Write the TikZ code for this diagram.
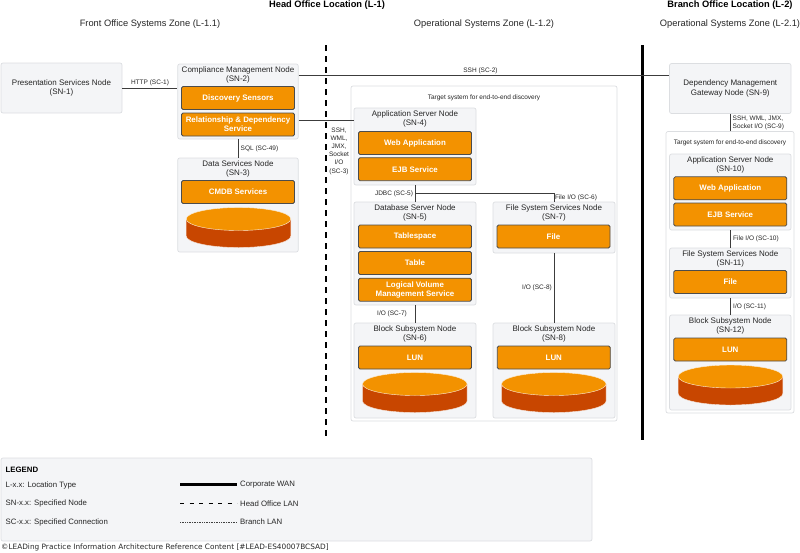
\documentclass[tikz,border=0pt]{standalone}
\usepackage{fontspec}
\setmainfont{Liberation Sans}
\newfontfamily\footfont{DejaVu Sans}
\definecolor{nodegrey}{HTML}{F4F5F7}
\definecolor{edgegrey}{HTML}{DCDEE1}
\definecolor{compfill}{HTML}{F39200}
\definecolor{diskside}{HTML}{C84600}
\definecolor{linkgrey}{HTML}{3C3C3C}
\tikzset{
  zonebox/.style={draw=edgegrey, fill=nodegrey, rounded corners=2pt, line width=.7pt, inner sep=0pt},
  targetbox/.style={draw=edgegrey, fill=white, rounded corners=2pt, line width=.7pt, inner sep=0pt},
  compbox/.style={draw=black!70, fill=compfill, rounded corners=1.5pt, line width=.8pt, minimum width=113pt,
    minimum height=23pt, inner sep=0pt, align=center, text=white, font=\fontsize{7.9}{9.3}\selectfont\bfseries},
  titletext/.style={align=center, inner sep=0pt, text=black!85, font=\fontsize{8}{9.6}\selectfont},
  linktext/.style={align=center, inner sep=0pt, text=black!85, font=\fontsize{6.5}{8.2}\selectfont},
  linktextl/.style={linktext, align=left, anchor=west},
  zonetext/.style={inner sep=0pt, text=black!85, font=\fontsize{9.3}{10}\selectfont},
  headtext/.style={inner sep=0pt, font=\fontsize{9.3}{10}\selectfont\bfseries},
  legendtext/.style={anchor=west, inner sep=0pt, text=black!85, font=\fontsize{7.8}{9}\selectfont},
  link/.style={draw=linkgrey, line width=.8pt},
}
% name, centre x, centre y, width, height, title
\newcommand{\servernode}[6]{
  \node[zonebox, minimum width=#4pt, minimum height=#5pt] (#1) at (#2,#3) {};
  \node[titletext, anchor=north] (#1title) at ([yshift=-2.6pt]#1.north) {#6};
}
% name, centre x, centre y, text
\newcommand{\compnode}[4]{\node[compbox] (#1) at (#2,#3) {#4};}
% centre x, top y
\newcommand{\disk}[2]{
  \fill[diskside, draw=white!85!diskside, line width=.4pt] (#1-52.3,#2+11.5) -- (#1-52.3,#2+28.5)
    arc[start angle=180, end angle=360, x radius=52.3pt, y radius=11.5pt] -- (#1+52.3,#2+11.5) -- cycle;
  \fill[compfill, draw=white!85!compfill, line width=.4pt] (#1,#2+11.5) ellipse[x radius=52.3pt, y radius=11.5pt];
}
\begin{document}
\begin{tikzpicture}[x=1pt, y=-1pt]
 \useasboundingbox (0,0) rectangle (800,552);

 % headings
 \node[headtext] (head1) at (327,5.5) {Head Office Location (L-1)};
 \node[headtext] (head2) at (730,5.5) {Branch Office Location (L-2)};
 \node[zonetext] (zone11) at (150,24) {Front Office Systems Zone (L-1.1)};
 \node[zonetext] (zone12) at (484,24) {Operational Systems Zone (L-1.2)};
 \node[zonetext] (zone21) at (730,24) {Operational Systems Zone (L-2.1)};

 % location borders
 \coordinate (lantop) at (326,45);
 \coordinate (lanend) at (326,440);
 \coordinate (wantop) at (642,45);
 \coordinate (wanend) at (642,440);
 \draw[black, line width=1.2pt, dash pattern=on 6pt off 5pt] (lantop) -- (lanend);
 \draw[black, line width=3pt] (wantop) -- (wanend);

 % target systems
 \node[targetbox, minimum width=266pt, minimum height=335pt] (target1) at (484,253.5) {};
 \node[targetbox, minimum width=128pt, minimum height=281.5pt] (target2) at (730,272.25) {};
 \node[linktext] (target1title) at (484,98) {Target system for end-to-end discovery};
 \node[linktext] (target2title) at (730,143) {Target system for end-to-end discovery};

 % front office
 \servernode{sn1}{61.5}{88}{121}{50}{}
 \node[titletext] (sn1text) at (sn1) {Presentation Services Node\\(SN-1)};
 \servernode{sn2}{238}{101.5}{120.5}{75}{Compliance Management Node\\(SN-2)}
 \compnode{sensors}{238}{98}{Discovery Sensors}
 \compnode{relation}{238}{124.5}{Relationship \& Dependency\\Service}
 \servernode{sn3}{238}{205}{120.5}{94}{Data Services Node\\(SN-3)}
 \compnode{cmdb}{238}{192}{CMDB Services}
 \disk{238.5}{207.5}

 % head office target
 \servernode{sn4}{415}{146.5}{122}{77}{Application Server Node\\(SN-4)}
 \compnode{web4}{415}{143}{Web Application}
 \compnode{ejb4}{415}{169.2}{EJB Service}
 \servernode{sn5}{415}{253.5}{122}{103}{Database Server Node\\(SN-5)}
 \compnode{tablespace}{415}{236.5}{Tablespace}
 \compnode{table}{415}{263}{Table}
 \compnode{volume}{415}{289.7}{Logical Volume\\Management Service}
 \servernode{sn7}{554}{227.5}{122}{51}{File System Services Node\\(SN-7)}
 \compnode{file7}{553.5}{236.5}{File}
 \servernode{sn6}{415}{370.5}{122}{95}{Block Subsystem Node\\(SN-6)}
 \compnode{lun6}{415}{357.5}{LUN}
 \disk{414.8}{372.5}
 \servernode{sn8}{554}{370.5}{122}{95}{Block Subsystem Node\\(SN-8)}
 \compnode{lun8}{553.8}{357.5}{LUN}
 \disk{553.8}{372.5}

 % branch office
 \servernode{sn9}{730.3}{88.5}{121.5}{50}{}
 \node[titletext] (sn9text) at (sn9) {Dependency Management\\Gateway Node (SN-9)};
 \servernode{sn10}{730.3}{192}{121.5}{76}{Application Server Node\\(SN-10)}
 \compnode{web10}{730.3}{188.3}{Web Application}
 \compnode{ejb10}{730.3}{214.5}{EJB Service}
 \servernode{sn11}{730.3}{273}{121.5}{50}{File System Services Node\\(SN-11)}
 \compnode{file11}{730.3}{282}{File}
 \servernode{sn12}{730.3}{362.5}{121.5}{95}{Block Subsystem Node\\(SN-12)}
 \compnode{lun12}{730.3}{349.5}{LUN}
 \disk{730.5}{365}

 % connections
 \coordinate (ssh2) at (298,75);
 \coordinate (ssh3) at (298,120.5);
 \coordinate (jdbc) at (415,193.5);
 \draw[link] (sn1.east) -- (sn1.east -| sn2.west);
 \draw[link] (ssh2 -| sn2.east) -- (ssh2 -| sn9.west);
 \draw[link] (ssh3 -| sn2.east) -- (ssh3 -| sn4.west);
 \draw[link] (sn2.south) -- (sn3.north);
 \draw[link] (sn4.south) -- (sn5.north);
 \draw[link] (jdbc) -| (sn7.north);
 \draw[link] (sn5.south) -- (sn6.north);
 \draw[link] (sn7.south) -- (sn8.north);
 \draw[link] (sn9.south) -- (target2.north -| sn9.south);
 \draw[link] (sn10.south) -- (sn11.north);
 \draw[link] (sn11.south) -- (sn12.north);

 % connection labels
 \node[linktext] (sc1) at (150,83) {HTTP (SC-1)};
 \node[linktext] (sc2) at (480.5,70.5) {SSH (SC-2)};
 \node[linktext] (sc3) at (339,151) {SSH,\\WML,\\JMX,\\Socket\\I/O\\(SC-3)};
 \node[linktext] (sc49) at (259.5,149) {SQL (SC-49)};
 \node[linktext] (sc5) at (394,193.5) {JDBC (SC-5)};
 \node[linktext] (sc6) at (576,197.5) {File I/O (SC-6)};
 \node[linktext] (sc7) at (392,314) {I/O (SC-7)};
 \node[linktext] (sc8) at (537,287.5) {I/O (SC-8)};
 \node[linktextl] (sc9) at (732.5,122.5) {SSH, WML, JMX,\\Socket I/O (SC-9)};
 \node[linktextl] (sc10) at (733,239) {File I/O (SC-10)};
 \node[linktextl] (sc11) at (733,306.5) {I/O (SC-11)};

 % legend
 \node[zonebox, minimum width=591pt, minimum height=83pt] (legend) at (296.5,499.5) {};
 \node[legendtext, font=\fontsize{7.8}{9}\selectfont\bfseries, text=black] (legendtitle) at (5.5,470) {LEGEND};
 \node[legendtext] (keyl) at (5.5,485) {L-x.x: Location Type};
 \node[legendtext] (keysn) at (5.5,503.5) {SN-x.x: Specified Node};
 \node[legendtext] (keysc) at (5.5,522) {SC-x.x: Specified Connection};
 \node[legendtext] (wantext) at (240,485) {Corporate WAN};
 \node[legendtext] (lantext) at (240,503.5) {Head Office LAN};
 \node[legendtext] (branchtext) at (240,522) {Branch LAN};
 \coordinate (wankey) at (180,484.5);
 \coordinate (lankey) at (180,503);
 \coordinate (branchkey) at (180,522);
 \draw[black, line width=2.5pt] (wankey) -- ([xshift=-3pt]wankey -| wantext.west);
 \draw[black, line width=1pt, dash pattern=on 4pt off 5.5pt] (lankey) -- ([xshift=-3pt]lankey -| lantext.west);
 \draw[black!75, line width=.7pt, dash pattern=on .7pt off 1pt] (branchkey) -- ([xshift=-3pt]branchkey -| branchtext.west);

 \node[anchor=west, inner sep=0pt, text=black!85, font=\footfont\fontsize{7.35}{8}\selectfont] (footer) at (1,547)
  {©LEADing Practice Information Architecture Reference Content [\#LEAD-ES40007BCSAD]};
\end{tikzpicture}
\end{document}
